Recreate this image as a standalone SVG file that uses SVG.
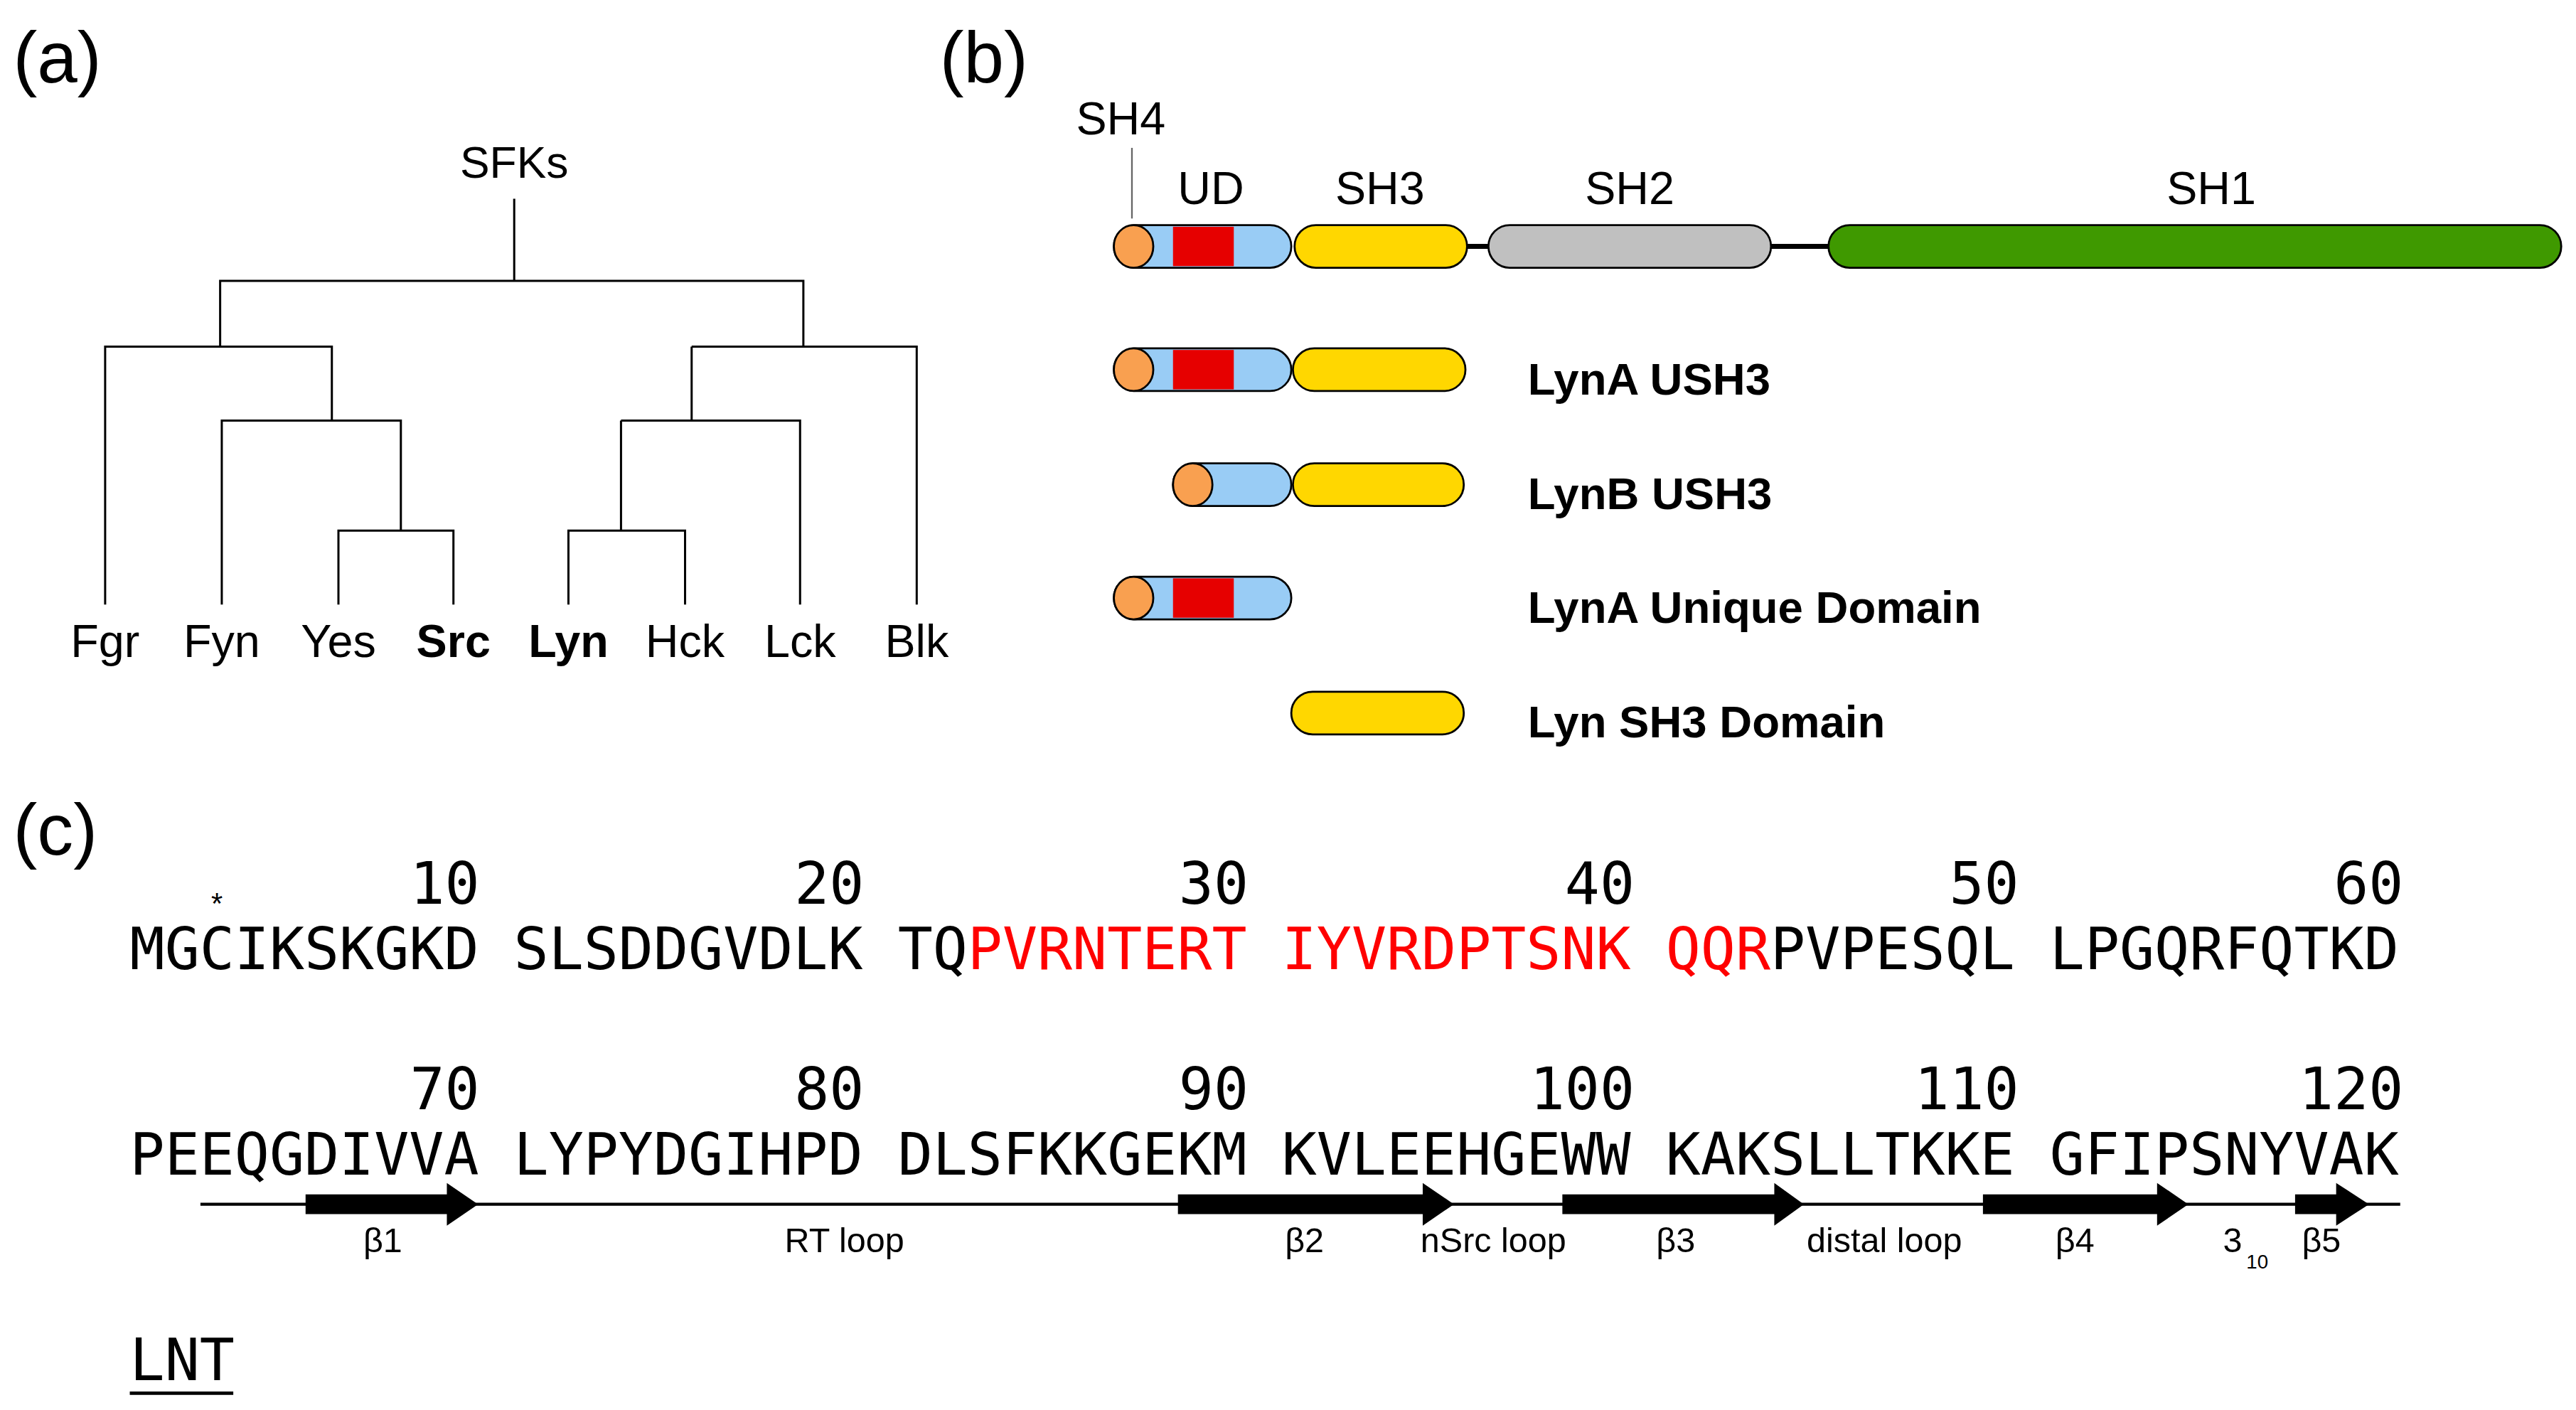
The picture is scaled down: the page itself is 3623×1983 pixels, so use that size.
<svg xmlns="http://www.w3.org/2000/svg" width="3623" height="1983" viewBox="0 0 3623 1983">
<style>
.s{font-family:"Liberation Sans",Arial,sans-serif;fill:#000}
.m{font-family:"DejaVu Sans Mono",monospace;font-size:35.3px;fill:#000}
.t{fill:none;stroke:#000;stroke-width:1.3}
.d{stroke:#000;stroke-width:1.2}
</style>
<rect width="3623" height="1983" fill="#fff"/>
<g transform="scale(2.3106)">
<g id="labels" class="s" font-size="44">
<text x="8" y="50">(a)</text><text x="572" y="50">(b)</text><text x="8" y="520">(c)</text>
</g>
<g id="tree">
<text class="s" font-size="27" x="313" y="108" text-anchor="middle">SFKs</text>
<path class="t" d="M313 121V171M134 211V171H489V211M64 368V211H202V256M135 368V256H244V323M206 368V323H276V368M421 211H558V368M421 211V256M378 256H487V368M378 256V323M346 368V323H417V368"/>
<g class="s" font-size="28" text-anchor="middle">
<text x="64" y="400">Fgr</text><text x="135" y="400">Fyn</text><text x="206" y="400">Yes</text><text x="276" y="400" font-weight="bold">Src</text><text x="346" y="400" font-weight="bold">Lyn</text><text x="417" y="400">Hck</text><text x="487" y="400">Lck</text><text x="558" y="400">Blk</text>
</g>
</g>
<g id="full">
<text class="s" font-size="28" x="655" y="82">SH4</text>
<line x1="689" y1="90" x2="689" y2="133" stroke="#666" stroke-width="1"/>
<g class="s" font-size="28" text-anchor="middle"><text x="737" y="124">UD</text><text x="840" y="124">SH3</text><text x="992" y="124">SH2</text><text x="1346" y="124">SH1</text></g>
<line x1="890" y1="150" x2="1115" y2="150" stroke="#000" stroke-width="3"/>
<rect class="d" x="678" y="137" width="108" height="26" rx="13" fill="#99ccf5"/>
<rect x="714" y="138" width="37" height="24" fill="#e60000"/>
<ellipse class="d" cx="690" cy="150" rx="12" ry="13" fill="#f9a050"/>
<rect class="d" x="788" y="137" width="105" height="26" rx="13" fill="#ffd700"/>
<rect class="d" x="906" y="137" width="172" height="26" rx="13" fill="#c0c0c0"/>
<rect class="d" x="1113" y="137" width="446" height="26" rx="13" fill="#3f9900"/>
</g>
<g id="lynA-ush3">
<rect class="d" x="678" y="212" width="108" height="26" rx="13" fill="#99ccf5"/>
<rect x="714" y="213" width="37" height="24" fill="#e60000"/>
<ellipse class="d" cx="690" cy="225" rx="12" ry="13" fill="#f9a050"/>
<rect class="d" x="787" y="212" width="105" height="26" rx="13" fill="#ffd700"/>
<text class="s" font-size="27.5" font-weight="bold" x="930" y="240">LynA USH3</text>
</g>
<g id="lynB-ush3">
<rect class="d" x="714" y="282" width="72" height="26" rx="13" fill="#99ccf5"/>
<ellipse class="d" cx="726" cy="295" rx="12" ry="13" fill="#f9a050"/>
<rect class="d" x="787" y="282" width="104" height="26" rx="13" fill="#ffd700"/>
<text class="s" font-size="27.5" font-weight="bold" x="930" y="310">LynB USH3</text>
</g>
<g id="lynA-ud">
<rect class="d" x="678" y="351" width="108" height="26" rx="13" fill="#99ccf5"/>
<rect x="714" y="352" width="37" height="24" fill="#e60000"/>
<ellipse class="d" cx="690" cy="364" rx="12" ry="13" fill="#f9a050"/>
<text class="s" font-size="27.5" font-weight="bold" x="930" y="379">LynA Unique Domain</text>
</g>
<g id="lyn-sh3">
<rect class="d" x="786" y="421" width="105" height="26" rx="13" fill="#ffd700"/>
<text class="s" font-size="27.5" font-weight="bold" x="930" y="449">Lyn SH3 Domain</text>
</g>
<g id="sequence">
<text class="s" font-size="18" x="132" y="556" text-anchor="middle">*</text>
<g class="m" text-anchor="end">
<text x="292" y="550">10</text><text x="526" y="550">20</text><text x="760" y="550">30</text><text x="995" y="550">40</text><text x="1229" y="550">50</text><text x="1463" y="550">60</text>
<text x="292" y="675">70</text><text x="526" y="675">80</text><text x="760" y="675">90</text><text x="995" y="675">100</text><text x="1229" y="675">110</text><text x="1463" y="675">120</text>
</g>
<text class="m" x="79" y="590" xml:space="preserve">MGCIKSKGKD SLSDDGVDLK TQ<tspan fill="#f00">PVRNTERT IYVRDPTSNK QQR</tspan>PVPESQL LPGQRFQTKD</text>
<text class="m" x="79" y="715" xml:space="preserve">PEEQGDIVVA LYPYDGIHPD DLSFKKGEKM KVLEEHGEWW KAKSLLTKKE GFIPSNYVAK</text>
</g>
<g id="ss">
<line x1="122" y1="733" x2="1461" y2="733" stroke="#000" stroke-width="1.8"/>
<path d="M186 727H272V720L291 733L272 746V739H186Z M717 727H866V720L885 733L866 746V739H717Z M951 727H1080V720L1098 733L1080 746V739H951Z M1207 727H1313V720L1332 733L1313 746V739H1207Z M1397 727H1422V720L1442 733L1422 746V739H1397Z"/>
<g class="s" font-size="21" text-anchor="middle">
<text x="233" y="762">β1</text><text x="514" y="762">RT loop</text><text x="794" y="762">β2</text><text x="909" y="762">nSrc loop</text><text x="1020" y="762">β3</text><text x="1147" y="762">distal loop</text><text x="1263" y="762">β4</text><text x="1359" y="762">3</text><text x="1374" y="772" font-size="12">10</text><text x="1413" y="762">β5</text>
</g>
</g>
<g id="lnt">
<text class="m" x="79" y="840">LNT</text>
<line x1="79" y1="848" x2="142" y2="848" stroke="#000" stroke-width="2"/>
</g>
</g>
</svg>
